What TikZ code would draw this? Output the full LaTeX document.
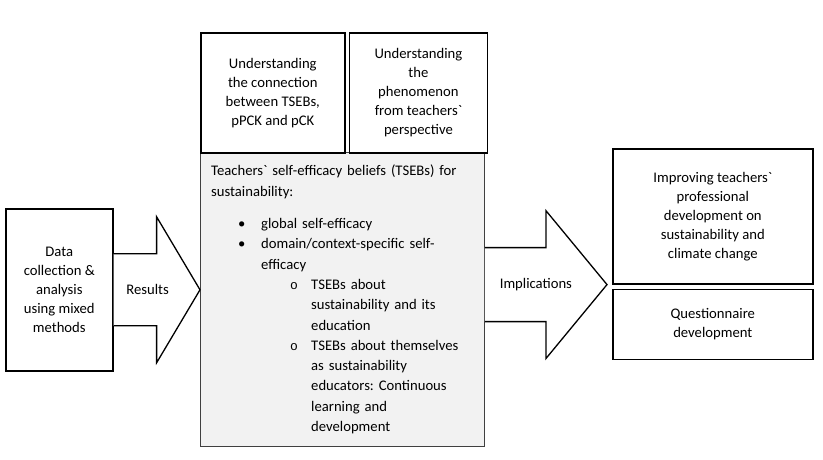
\documentclass[tikz,border=0pt]{standalone}
\usepackage{fontspec}
\setmainfont{Carlito}
\setmonofont{Liberation Mono}
\usepackage{enumitem}
\usetikzlibrary{positioning,calc}
\definecolor{ink}{HTML}{000000}
\definecolor{frame}{HTML}{404040}
\definecolor{paper}{HTML}{F2F2F2}

\begin{document}
\begin{tikzpicture}[x=1pt,y=-1pt,
  node distance=3pt,
  box/.style={draw=ink,line width=1.6pt,fill=white,align=center,inner sep=0pt,font=\fontsize{14.67}{19}\selectfont},
  bigarrow/.style={draw=ink,line width=1.3pt,fill=white,line join=miter},
  arrowtext/.style={inner sep=0pt,font=\fontsize{14.67}{19}\selectfont},
  listtext/.style={text width=272pt,align=left,inner sep=0pt,font=\fontsize{14.67}{20.3}\selectfont\frenchspacing}
]
\useasboundingbox (0,0) rectangle (823,460);
% central box with the beliefs
\node[draw=frame,fill=paper,line width=0.9pt,minimum width=284pt,minimum height=294pt,anchor=north west] (tsebs) at (200,152) {};
\node[listtext,anchor=north west] (tsebstext) at ([shift={(11,13)}]tsebs.north west) {%
Teachers\textasciigrave{} self-efficacy beliefs (TSEBs) for\\ sustainability:
\begin{itemize}[label=\textbullet,leftmargin=50pt,labelwidth=23pt,labelsep=0pt,align=left,itemsep=0pt,parsep=0pt,topsep=12pt,partopsep=0pt]
\item global self-efficacy
\item domain/context-specific self-\\efficacy
  \begin{itemize}[label={\ttfamily\fontsize{13}{13}\selectfont o},leftmargin=50pt,labelwidth=21pt,labelsep=0pt,align=left,itemsep=0pt,parsep=0pt,topsep=0pt,partopsep=0pt]
  \item TSEBs about\\sustainability and its\\education
  \item TSEBs about themselves\\as sustainability\\educators: Continuous\\learning and\\development
  \end{itemize}
\end{itemize}};
% boxes on top
\node[box,minimum width=144pt,minimum height=120pt,anchor=north west] (conn) at (200,32) {Understanding\\the connection\\between TSEBs,\\pPCK and pCK};
\node[box,minimum width=138pt,minimum height=120pt,right=of conn] (phen) {Understanding\\the\\phenomenon\\from teachers\textasciigrave\\perspective};
% left box
\node[box,minimum width=107pt,minimum height=162pt,anchor=north west] (data) at (5,208) {Data\\collection \&\\analysis\\using mixed\\methods};
% right boxes
\node[box,minimum width=200pt,minimum height=135pt,anchor=north west] (improve) at (612,148) {Improving teachers\textasciigrave\\professional\\development on\\sustainability and\\climate change};
\node[box,minimum width=200pt,minimum height=70pt,below=4pt of improve] (quest) {Questionnaire\\development};
% block arrows
\coordinate (restip) at (tsebs.west |- data.east);
\draw[bigarrow] ($(data.east)+(0,-36)$) -- ++(43,0) -- ++(0,-37) -- (restip) -- ($(data.east)+(43,73)$) -- ++(0,-37) -- ++(-43,0);
\node[arrowtext] (results) at ($(data.east)+(34,0)$) {Results};
\coordinate (imptip) at ($(improve.south west)+(-5,0)$);
\draw[bigarrow] ($(tsebs.east |- imptip)+(0,-37)$) -- ++(61,0) -- ++(0,-37) -- (imptip) -- ($(tsebs.east |- imptip)+(61,74)$) -- ++(0,-37) -- ++(-61,0);
\node[arrowtext] (implic) at ($(tsebs.east |- imptip)+(51,0)$) {Implications};
\end{tikzpicture}
\end{document}
